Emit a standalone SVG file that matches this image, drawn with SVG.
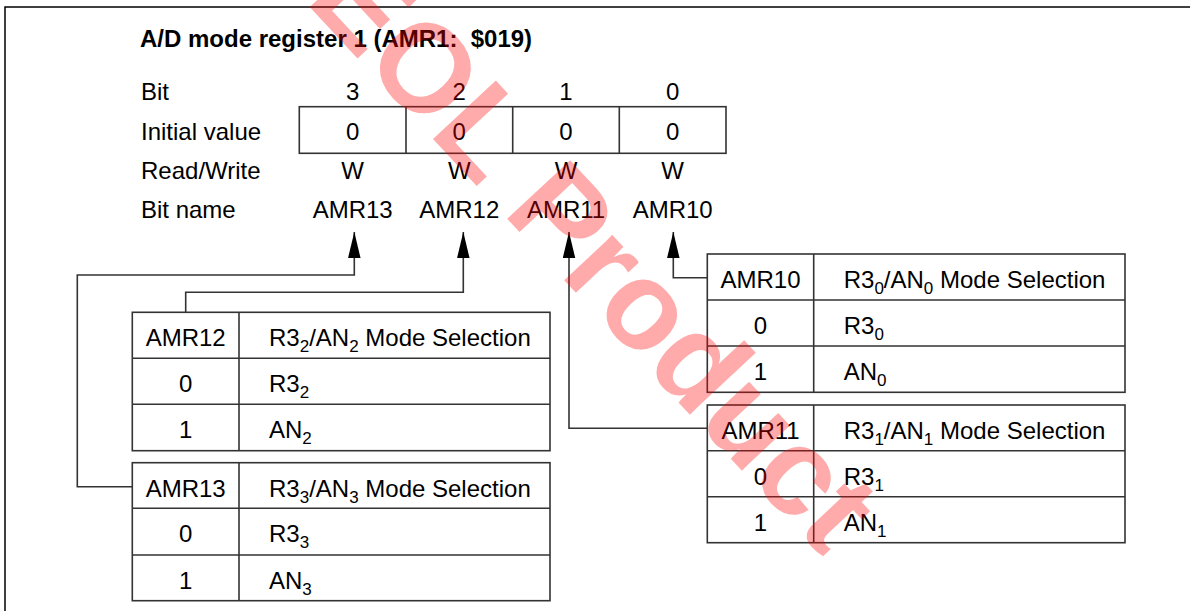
<svg xmlns="http://www.w3.org/2000/svg" width="1190" height="611" viewBox="0 0 1190 611">
<defs>
<style>
text{font-family:"Liberation Sans",Arial,sans-serif;font-size:24px;fill:#000}
.title{font-weight:bold}
.c{text-anchor:middle}
.sub{font-size:17px}
.ln{fill:none;stroke:#333;stroke-width:1.6}
.cell{fill:#fff;stroke:#333;stroke-width:1.6}
.wm{font-family:"Liberation Sans",Arial,sans-serif;font-weight:bold;font-size:125px;fill:#ff0000;fill-opacity:0.33}
</style>
<marker id="ah" markerUnits="userSpaceOnUse" markerWidth="26" markerHeight="13" viewBox="0 0 25 12" refX="25" refY="6" orient="auto-start-reverse">
<path d="M0,0 L25,6 L0,12 Z" fill="#000"/>
</marker>
</defs>
<rect x="0" y="0" width="1190" height="611" fill="#fff"/>
<path d="M5,611 V7 H1190" fill="none" stroke="#000" stroke-width="1.5"/>

<g id="title"><text class="title" x="140" y="47">A/D mode register 1 (AMR1:&#160; $019)</text></g>

<g id="register">
<text x="141" y="100">Bit</text>
<text x="141" y="140">Initial value</text>
<text x="141" y="179">Read/Write</text>
<text x="141" y="218">Bit name</text>
<rect class="cell" x="299.3" y="106.7" width="426.7" height="46.6"/>
<path class="ln" d="M406,106.7 V153.3 M512.7,106.7 V153.3 M619.3,106.7 V153.3"/>
<text class="c" x="352.7" y="100">3</text>
<text class="c" x="459.3" y="100">2</text>
<text class="c" x="566" y="100">1</text>
<text class="c" x="672.7" y="100">0</text>
<text class="c" x="352.7" y="140">0</text>
<text class="c" x="459.3" y="140">0</text>
<text class="c" x="566" y="140">0</text>
<text class="c" x="672.7" y="140">0</text>
<text class="c" x="352.7" y="179">W</text>
<text class="c" x="459.3" y="179">W</text>
<text class="c" x="566" y="179">W</text>
<text class="c" x="672.7" y="179">W</text>
<text class="c" x="352.7" y="218">AMR13</text>
<text class="c" x="459.3" y="218">AMR12</text>
<text class="c" x="566" y="218">AMR11</text>
<text class="c" x="672.7" y="218">AMR10</text>
</g>

<g id="connectors">
<path class="ln" marker-start="url(#ah)" d="M354.3,232 V275 H77.3 V486.7 H132.3"/>
<path class="ln" marker-start="url(#ah)" d="M463.3,232 V292.3 H185.7 V312.3"/>
<path class="ln" marker-start="url(#ah)" d="M569,232 V428.3 H707.3"/>
<path class="ln" marker-start="url(#ah)" d="M673.3,232 V277.7 H707.3"/>
</g>

<g id="table-amr12">
<rect class="cell" x="132.3" y="312.3" width="417.7" height="138.4"/>
<path class="ln" d="M132.3,358.3 H550 M132.3,404.3 H550 M239,312.3 V450.7"/>
<text class="c" x="185.7" y="346.3">AMR12</text>
<text x="269" y="346.3">R3<tspan class="sub" dy="6">2</tspan><tspan dy="-6">/AN</tspan><tspan class="sub" dy="6">2</tspan><tspan dy="-6"> Mode Selection</tspan></text>
<text class="c" x="185.7" y="392">0</text>
<text x="269" y="392">R3<tspan class="sub" dy="6">2</tspan></text>
<text class="c" x="185.7" y="438">1</text>
<text x="269" y="438">AN<tspan class="sub" dy="6">2</tspan></text>
</g>

<g id="table-amr13">
<rect class="cell" x="132.3" y="462.7" width="417.7" height="138"/>
<path class="ln" d="M132.3,508.3 H550 M132.3,555 H550 M239,462.7 V600.7"/>
<text class="c" x="185.7" y="496.7">AMR13</text>
<text x="269" y="496.7">R3<tspan class="sub" dy="6">3</tspan><tspan dy="-6">/AN</tspan><tspan class="sub" dy="6">3</tspan><tspan dy="-6"> Mode Selection</tspan></text>
<text class="c" x="185.7" y="542">0</text>
<text x="269" y="542">R3<tspan class="sub" dy="6">3</tspan></text>
<text class="c" x="185.7" y="589">1</text>
<text x="269" y="589">AN<tspan class="sub" dy="6">3</tspan></text>
</g>

<g id="table-amr10">
<rect class="cell" x="707.3" y="254" width="417.7" height="138.3"/>
<path class="ln" d="M707.3,300 H1125 M707.3,346 H1125 M813.7,254 V392.3"/>
<text class="c" x="760.5" y="288.3">AMR10</text>
<text x="843.7" y="288.3">R3<tspan class="sub" dy="6">0</tspan><tspan dy="-6">/AN</tspan><tspan class="sub" dy="6">0</tspan><tspan dy="-6"> Mode Selection</tspan></text>
<text class="c" x="760.5" y="334">0</text>
<text x="843.7" y="334">R3<tspan class="sub" dy="6">0</tspan></text>
<text class="c" x="760.5" y="380">1</text>
<text x="843.7" y="380">AN<tspan class="sub" dy="6">0</tspan></text>
</g>

<g id="table-amr11">
<rect class="cell" x="707.3" y="405" width="417.7" height="137.7"/>
<path class="ln" d="M707.3,450.7 H1125 M707.3,496.7 H1125 M813.7,405 V542.7"/>
<text class="c" x="760.5" y="439">AMR11</text>
<text x="843.7" y="439">R3<tspan class="sub" dy="6">1</tspan><tspan dy="-6">/AN</tspan><tspan class="sub" dy="6">1</tspan><tspan dy="-6"> Mode Selection</tspan></text>
<text class="c" x="760.5" y="485">0</text>
<text x="843.7" y="485">R3<tspan class="sub" dy="6">1</tspan></text>
<text class="c" x="760.5" y="531">1</text>
<text x="843.7" y="531">AN<tspan class="sub" dy="6">1</tspan></text>
</g>

<g id="watermark"><text class="wm" x="304" y="1" transform="rotate(47 304 1)">EOL Product</text></g>
</svg>
